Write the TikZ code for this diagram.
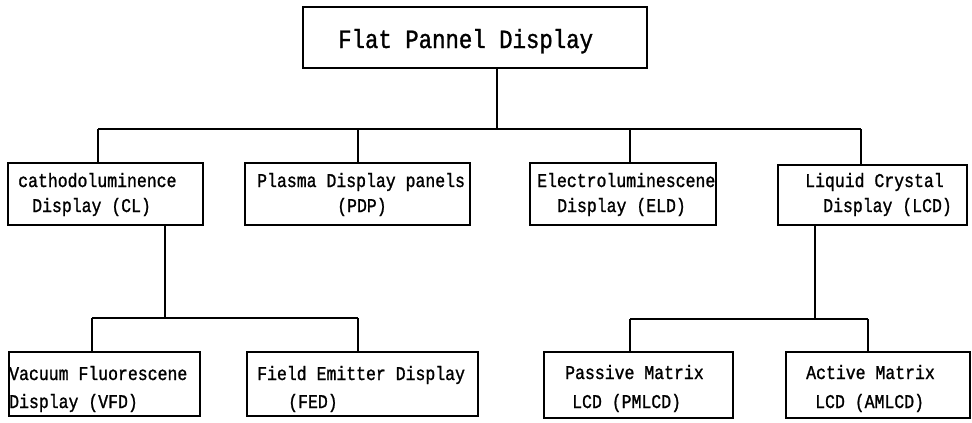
\documentclass[tikz,border=0pt]{standalone}
\usepackage{fontspec}
\newfontfamily\chartfont{Liberation Mono}[FakeStretch=0.85,FakeBold=1.2]
\begin{document}
\begin{tikzpicture}[x=1pt,y=-1pt,
  box/.style={draw,line width=1.3pt,inner sep=0pt,rectangle},
  lbl/.style={anchor=base west,inner sep=0pt,font=\chartfont\fontsize{19.4}{21}\selectfont},
  ttl/.style={anchor=base west,inner sep=0pt,font=\chartfont\fontsize{26.3}{28}\selectfont},
  link/.style={line width=1.3pt}]
\useasboundingbox (0,0) rectangle (972,423);

% boxes, placed by their centres
\node[box,minimum width=344pt,minimum height=61pt] (top) at (475,37.5) {};
\node[box,minimum width=195pt,minimum height=62pt] (cl)  at (105.5,194) {};
\node[box,minimum width=225pt,minimum height=62pt] (pdp) at (357.5,194) {};
\node[box,minimum width=186pt,minimum height=62pt] (eld) at (623,194) {};
\node[box,minimum width=189pt,minimum height=60pt] (lcd) at (872.5,195) {};
\node[box,minimum width=191pt,minimum height=64pt] (vfd) at (104.5,384) {};
\node[box,minimum width=231pt,minimum height=64pt] (fed) at (362.5,384) {};
\node[box,minimum width=189pt,minimum height=66pt] (pm)  at (638.5,385) {};
\node[box,minimum width=184pt,minimum height=66pt] (am)  at (878,385) {};

% labels
\node[ttl] (ttop) at (338,48) {Flat Pannel Display};
\node[lbl] (tcl1) at (18,187) {cathodoluminence};
\node[lbl] (tcl2) at (32,212) {Display (CL)};
\node[lbl] (tpdp1) at (257,187) {Plasma Display panels};
\node[lbl] (tpdp2) at (337,212) {(PDP)};
\node[lbl] (teld1) at (537,187) {Electroluminescene};
\node[lbl] (teld2) at (557,212) {Display (ELD)};
\node[lbl] (tlcd1) at (805,187) {Liquid Crystal};
\node[lbl] (tlcd2) at (823,212) {Display (LCD)};
\node[lbl] (tvfd1) at (9,380) {Vacuum Fluorescene};
\node[lbl] (tvfd2) at (9,408) {Display (VFD)};
\node[lbl] (tfed1) at (257,380) {Field Emitter Display};
\node[lbl] (tfed2) at (288,408) {(FED)};
\node[lbl] (tpm1) at (565,379) {Passive Matrix};
\node[lbl] (tpm2) at (572,408) {LCD (PMLCD)};
\node[lbl] (tam1) at (806,379) {Active Matrix};
\node[lbl] (tam2) at (815,408) {LCD (AMLCD)};

% junction points of the tree
\coordinate (j0) at (497,129);
\coordinate (dcl) at (98,129);
\coordinate (dpdp) at (358,129);
\coordinate (deld) at (630,129);
\coordinate (dlcd) at (861,129);
\coordinate (j1) at (165,318);
\coordinate (dvfd) at (92,318);
\coordinate (dfed) at (358,318);
\coordinate (j2) at (815,319);
\coordinate (dpm) at (630,319);
\coordinate (dam) at (868,319);

% first level
\draw[link] (top.south -| j0) -- (j0);
\draw[link] (dcl) -- (dlcd);
\draw[link] (dcl) -- (dcl |- cl.north);
\draw[link] (dpdp) -- (dpdp |- pdp.north);
\draw[link] (deld) -- (deld |- eld.north);
\draw[link] (dlcd) -- (dlcd |- lcd.north);

% second level under CL
\draw[link] (cl.south -| j1) -- (j1);
\draw[link] (dvfd) -- (dfed);
\draw[link] (dvfd) -- (dvfd |- vfd.north);
\draw[link] (dfed) -- (dfed |- fed.north);

% second level under LCD
\draw[link] (lcd.south -| j2) -- (j2);
\draw[link] (dpm) -- (dam);
\draw[link] (dpm) -- (dpm |- pm.north);
\draw[link] (dam) -- (dam |- am.north);
\end{tikzpicture}
\end{document}
